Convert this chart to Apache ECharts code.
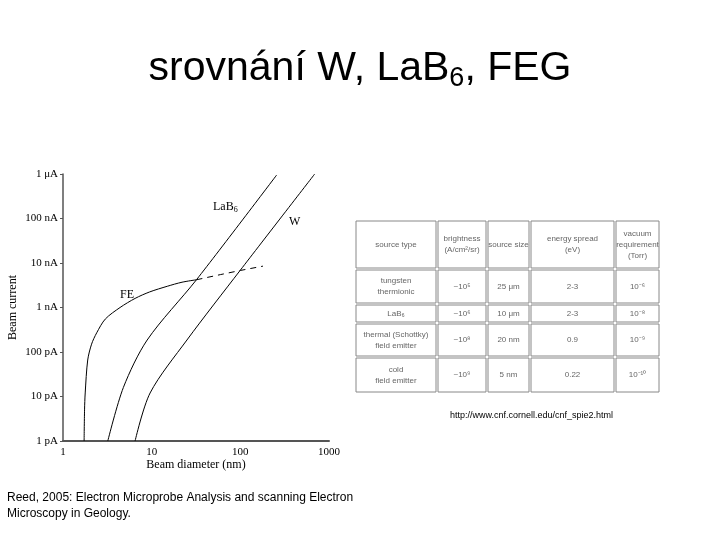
<!DOCTYPE html>
<html><head><meta charset="utf-8">
<script src="https://cdn.jsdelivr.net/npm/echarts@6/dist/echarts.min.js"></script>
<style>html,body{margin:0;padding:0;background:#fff}#c{width:720px;height:540px}</style>
</head><body><div id="c"></div>
<script>
const yTickLabels = {1:'1 pA',10:'10 pA',100:'100 pA',1000:'1 nA',10000:'10 nA',100000:'100 nA',1000000:'1 \u03bcA'};
const xTickLabels = {1:'1',10:'10',100:'100',1000:'1000'};
const feSolid = [[1.73,1],[1.75,5],[1.78,12],[1.9,66],[2.1,150],[2.4,270],[3,550],[4.4,1000],[6.5,1600],[9.5,2240],[15,3000],[22,3700],[32,4200]];
const feDashed = [[32,4200],[60,5500],[100,6800],[180,8500]];
const lab6 = [[3.2,1],[4.8,16],[8.9,186],[32,4200],[257,950000]];
const wCurve = [[6.5,1],[9.6,12],[25,186],[100,6900],[690,1000000]];
const tableHeader = ['source type','brightness\n(A/cm\u00b2/sr)','source size','energy spread\n(eV)','vacuum\nrequirement\n(Torr)'];
const tableRows = [
  ['tungsten\nthermionic','~10\u2075','25 \u03bcm','2-3','10\u207b\u2076'],
  ['LaB\u2086','~10\u2076','10 \u03bcm','2-3','10\u207b\u2078'],
  ['thermal (Schottky)\nfield emitter','~10\u2078','20 nm','0.9','10\u207b\u2079'],
  ['cold\nfield emitter','~10\u2079','5 nm','0.22','10\u207b\u00b9\u2070']
];
const colX = [355,437,487,530,615,660];
const rowY = [220,269,304,323,357,393];

const g = [];
for (let r=0;r<5;r++){
  const cells = r===0?tableHeader:tableRows[r-1];
  for (let c=0;c<5;c++){
    const x0=colX[c]+1,x1=colX[c+1]-1,y0=rowY[r]+1,y1=rowY[r+1]-1;
    g.push({type:'rect',shape:{x:x0,y:y0,width:x1-x0,height:y1-y0},style:{fill:'#fff',stroke:'#888',lineWidth:1}});
    g.push({type:'text',x:(x0+x1)/2,y:(y0+y1)/2,style:{text:cells[c],fill:'#666',font:'8px "Liberation Sans"',align:'center',verticalAlign:'middle',lineHeight:11}});
  }
}
g.push({type:'text',x:450,y:411,style:{text:'http://www.cnf.cornell.edu/cnf_spie2.html',fill:'#000',font:'9px "Liberation Sans"'}});
g.push({type:'text',x:7,y:490,style:{text:'Reed, 2005: Electron Microprobe Analysis and scanning Electron\nMicroscopy in Geology.',fill:'#000',font:'12px "Liberation Sans"',lineHeight:16}});
g.push({type:'text',x:213,y:200,style:{text:'{a|LaB}{s|6}',rich:{a:{font:'12px "Liberation Serif"',fill:'#000'},s:{font:'8px "Liberation Serif"',fill:'#000',padding:[6,0,0,0]}}}});
g.push({type:'text',x:289,y:216,style:{text:'W',fill:'#000',font:'12px "Liberation Serif"'}});
g.push({type:'text',x:120,y:289,style:{text:'FE',fill:'#000',font:'12px "Liberation Serif"'}});

const lineStyle = {color:'#000',width:1};
const chart = echarts.init(document.getElementById('c'));
chart.setOption({
  animation:false,
  title:{text:'{a|srovnání W, LaB}{s|6}{a|, FEG}',left:'center',top:40,
    textStyle:{rich:{a:{fontSize:41,fontWeight:'normal',fontFamily:'Liberation Sans',color:'#000'},s:{fontSize:27,fontWeight:'normal',fontFamily:'Liberation Sans',color:'#000',padding:[20,0,0,0]}}}},
  grid:{left:63,right:391,top:174,bottom:99},
  xAxis:{type:'log',logBase:10,min:1,max:1000,name:'Beam diameter (nm)',nameLocation:'middle',nameGap:16,
    nameTextStyle:{fontFamily:'Liberation Serif',fontSize:12,color:'#000'},
    axisLine:{lineStyle:{color:'#555',width:2}},axisTick:{show:false},splitLine:{show:false},
    axisLabel:{fontFamily:'Liberation Serif',fontSize:11,color:'#000',margin:6,formatter:v=>xTickLabels[Math.round(v)]||''}},
  yAxis:{type:'log',logBase:10,min:1,max:1000000,name:'Beam current',nameLocation:'middle',nameGap:44,
    nameTextStyle:{fontFamily:'Liberation Serif',fontSize:12,color:'#000'},
    axisLine:{lineStyle:{color:'#555',width:1.5}},axisTick:{show:true,length:3,lineStyle:{color:'#555'}},splitLine:{show:false},
    axisLabel:{fontFamily:'Liberation Serif',fontSize:11,color:'#000',margin:5,formatter:v=>yTickLabels[Math.round(v)]||''}},
  series:[
    {type:'line',data:feSolid,showSymbol:false,smooth:0.3,lineStyle},
    {type:'line',data:feDashed,showSymbol:false,lineStyle:{color:'#000',width:1,type:[6,5]}},
    {type:'line',data:lab6,showSymbol:false,smooth:0.3,lineStyle},
    {type:'line',data:wCurve,showSymbol:false,smooth:0.3,lineStyle}
  ],
  graphic:g
});
</script></body></html>
